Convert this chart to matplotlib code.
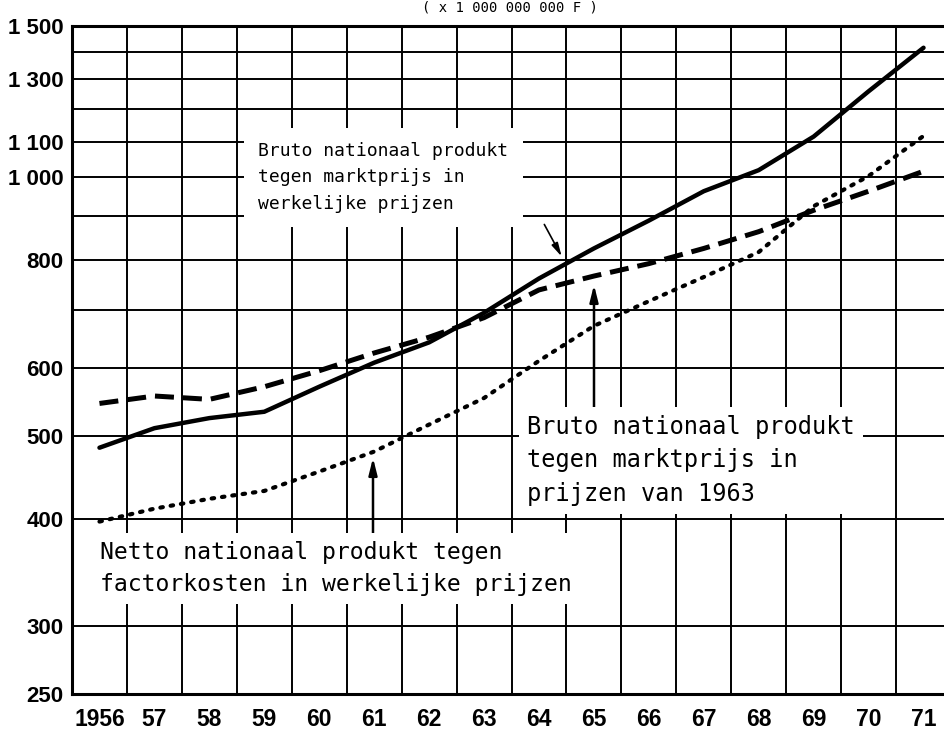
import matplotlib
matplotlib.use("Agg")
import matplotlib.pyplot as plt
from matplotlib.ticker import FixedLocator, NullFormatter

# ---- data ----
years = [1956, 1957, 1958, 1959, 1960, 1961, 1962, 1963,
         1964, 1965, 1966, 1967, 1968, 1969, 1970, 1971]
bnp_werkelijk = [484, 510, 524, 533, 570, 608, 642, 695,
                 762, 826, 890, 963, 1019, 1115, 1259, 1415]
bnp_1963 = [545, 556, 551, 570, 595, 624, 651, 686,
            739, 767, 793, 826, 864, 915, 963, 1016]
nnp_factor = [397, 411, 422, 431, 454, 479, 515, 553,
              611, 671, 717, 765, 818, 925, 1003, 1117]

y_ticks = [250, 300, 400, 500, 600, 700, 800, 900, 1000, 1100, 1200, 1300, 1400, 1500]
y_labels = ["250", "300", "400", "500", "600", "", "800", "", "1 000", "1 100", "", "1 300", "", "1 500"]
x_labels = ["1956", "57", "58", "59", "60", "61", "62", "63",
            "64", "65", "66", "67", "68", "69", "70", "71"]

title = "( x 1 000 000 000 F )"
label_bnp_w = "Bruto nationaal produkt\ntegen marktprijs in\nwerkelijke prijzen"
label_bnp_63 = "Bruto nationaal produkt\ntegen marktprijs in\nprijzen van 1963"
label_nnp = "Netto nationaal produkt tegen\nfactorkosten in werkelijke prijzen"

W, H = 944, 732
NUM = ["Liberation Sans", "DejaVu Sans"]
LET = ["DejaVu Sans Mono"]


def P(px, py):
    return (px / W, 1 - py / H)


fig = plt.figure(figsize=(W / 100, H / 100), dpi=100)
fig.patch.set_facecolor("white")
ax = fig.add_axes([72 / W, 1 - 694 / H, 879 / W, 668 / H])
ax.set_yscale("log")
ax.set_ylim(250, 1500)
ax.set_xlim(1955.5, 1971.5)

# grid
ax.yaxis.set_major_locator(FixedLocator(y_ticks))
ax.yaxis.set_minor_locator(FixedLocator([]))
ax.set_yticklabels(y_labels)
ax.yaxis.set_minor_formatter(NullFormatter())
ax.set_xticks(years)
ax.set_xticklabels(x_labels)
ax.xaxis.set_minor_locator(FixedLocator([1955.5 + k for k in range(17)]))
ax.grid(True, axis="y", which="major", color="black", lw=1.4, zorder=1)
ax.grid(True, axis="x", which="minor", color="black", lw=1.4, zorder=1)
ax.grid(False, axis="x", which="major")
ax.tick_params(axis="both", which="both", length=0)
ax.tick_params(axis="y", pad=6)
ax.tick_params(axis="x", pad=10)
for lab in ax.get_yticklabels():
    lab.set_family(NUM); lab.set_fontsize(16); lab.set_fontweight("bold")
for lab in ax.get_xticklabels():
    lab.set_family(NUM); lab.set_fontsize(16.5); lab.set_fontweight("bold")

for side in ["left", "top", "bottom"]:
    ax.spines[side].set_linewidth(2.2)
    ax.spines[side].set_color("black")
ax.spines["right"].set_visible(False)

# series
ax.plot(years, bnp_werkelijk, color="black", lw=3.2, solid_capstyle="round", zorder=5)
ax.plot(years, bnp_1963, color="black", lw=3.6, dashes=(3.8, 1.8), zorder=5)
ax.plot(years, nnp_factor, color="black", lw=3.0, dashes=(0.6, 1.9),
        dash_capstyle="round", zorder=5)

# labels with white boxes
fig.text(*P(258, 142), label_bnp_w, family=LET, fontsize=13, va="top", ha="left",
         linespacing=1.6, zorder=6,
         bbox=dict(boxstyle="square,pad=0.8", facecolor="white", edgecolor="none"))
fig.text(*P(527, 415), label_bnp_63, family=LET, fontsize=17, va="top", ha="left",
         linespacing=1.5, zorder=6,
         bbox=dict(boxstyle="square,pad=0.35", facecolor="white", edgecolor="none"))
fig.text(*P(100, 541), label_nnp, family=LET, fontsize=16.7, va="top", ha="left",
         linespacing=1.5, zorder=6,
         bbox=dict(boxstyle="square,pad=0.35", facecolor="white", edgecolor="none"))

# arrows
ax.annotate("", xy=P(563, 259), xytext=P(543, 222), xycoords="figure fraction",
            textcoords="figure fraction",
            arrowprops=dict(arrowstyle="-|>,head_length=0.8,head_width=0.2", color="black", lw=1.2),
            zorder=7)
ax.annotate("", xy=P(594, 282), xytext=P(594, 410), xycoords="figure fraction",
            textcoords="figure fraction",
            arrowprops=dict(arrowstyle="-|>,head_length=1.0,head_width=0.25", color="black", lw=1.8),
            zorder=7)
ax.annotate("", xy=P(373, 455), xytext=P(373, 538), xycoords="figure fraction",
            textcoords="figure fraction",
            arrowprops=dict(arrowstyle="-|>,head_length=1.0,head_width=0.25", color="black", lw=1.8),
            zorder=7)

fig.text(0.54, 0.999, title, family=LET, fontsize=10, ha="center", va="top")

fig.savefig("out.png", dpi=100, facecolor="white")
